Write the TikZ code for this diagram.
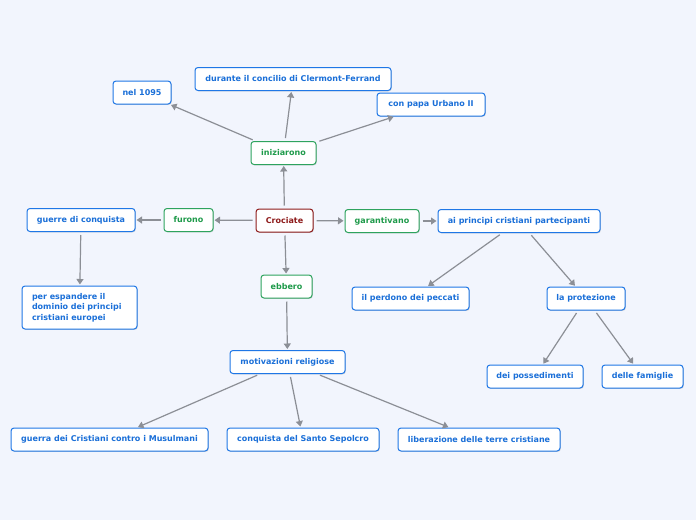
\documentclass[tikz,border=0pt]{standalone}
\usepackage{fontspec}
\setmainfont{DejaVu Sans}
\usetikzlibrary{arrows.meta,shadows}
\definecolor{bg}{HTML}{F2F5FD}
\definecolor{bluebd}{HTML}{1F77E6}
\definecolor{bluetx}{HTML}{1A6FD8}
\definecolor{greenbd}{HTML}{2EA35E}
\definecolor{greentx}{HTML}{1E9A4A}
\definecolor{redbd}{HTML}{8E1B1B}
\definecolor{edgec}{HTML}{8C8F96}
\tikzset{
  base/.style={draw, line width=1pt, rounded corners=3pt, fill=white, font=\bfseries\fontsize{8}{10.5}\selectfont, inner sep=0pt, minimum height=23pt, drop shadow={shadow xshift=0.8pt, shadow yshift=-0.8pt, opacity=0.25, fill=black!60}},
  bluebox/.style={base, draw=bluebd, text=bluetx},
  greenbox/.style={base, draw=greenbd, text=greentx},
  redbox/.style={base, draw=redbd, text=redbd},
  conn/.style={draw=edgec, line width=1.2pt, -{Triangle[length=5.5pt,width=7pt]}, shorten >=1pt, shorten <=3pt}
}
\begin{document}
\begin{tikzpicture}[x=1pt,y=-1pt]
\fill[bg] (0,0) rectangle (696,520);
\useasboundingbox (0,0) rectangle (696,520);
\node[redbox, minimum width=57pt] (cro) at (284.5,220.5) {Crociate};
\node[greenbox, minimum width=65pt] (ini) at (283.5,153) {iniziarono};
\node[greenbox, minimum width=49pt] (fur) at (188.5,220) {furono};
\node[greenbox, minimum width=74pt] (gar) at (382,221) {garantivano};
\node[greenbox, minimum width=51pt] (ebb) at (286.5,286.5) {ebbero};
\node[bluebox, minimum width=58pt] (nel) at (142,92.5) {nel 1095};
\node[bluebox, minimum width=196pt] (dur) at (293,79) {durante il concilio di Clermont-Ferrand};
\node[bluebox, minimum width=108pt] (con) at (431,104.5) {con papa Urbano II};
\node[bluebox, minimum width=108pt] (gue) at (81,220) {guerre di conquista};
\node[bluebox, minimum width=115pt, minimum height=43pt, align=left, text width=95pt, inner xsep=10pt] (per) at (79.5,307.5) {per espandere il\\dominio dei principi\\cristiani europei};
\node[bluebox, minimum width=162pt] (aip) at (519,221) {ai principi cristiani partecipanti};
\node[bluebox, minimum width=117pt] (perd) at (410.5,298.5) {il perdono dei peccati};
\node[bluebox, minimum width=78pt] (pro) at (586,298.5) {la protezione};
\node[bluebox, minimum width=96pt] (pos) at (535,376.5) {dei possedimenti};
\node[bluebox, minimum width=81pt] (fam) at (642.5,376.5) {delle famiglie};
\node[bluebox, minimum width=115pt] (mot) at (287.5,362) {motivazioni religiose};
\node[bluebox, minimum width=197pt] (gcm) at (109.5,439.5) {guerra dei Cristiani contro i Musulmani};
\node[bluebox, minimum width=152pt] (css) at (303,439.5) {conquista del Santo Sepolcro};
\node[bluebox, minimum width=162pt] (lib) at (479,439.5) {liberazione delle terre cristiane};
\draw[conn] (cro) -- (ini);
\draw[conn] (cro) -- (fur);
\draw[conn] (cro) -- (gar);
\draw[conn] (cro) -- (ebb);
\draw[conn] (ini) -- (nel);
\draw[conn] (ini) -- (dur);
\draw[conn] (ini) -- (con);
\draw[conn] (fur) -- (gue);
\draw[conn] (gue) -- (per);
\draw[conn] (gar) -- (aip);
\draw[conn] (aip) -- (perd);
\draw[conn] (aip) -- (pro);
\draw[conn] (pro) -- (pos);
\draw[conn] (pro) -- (fam);
\draw[conn] (ebb) -- (mot);
\draw[conn] (mot) -- (gcm);
\draw[conn] (mot) -- (css);
\draw[conn] (mot) -- (lib);
\end{tikzpicture}
\end{document}
